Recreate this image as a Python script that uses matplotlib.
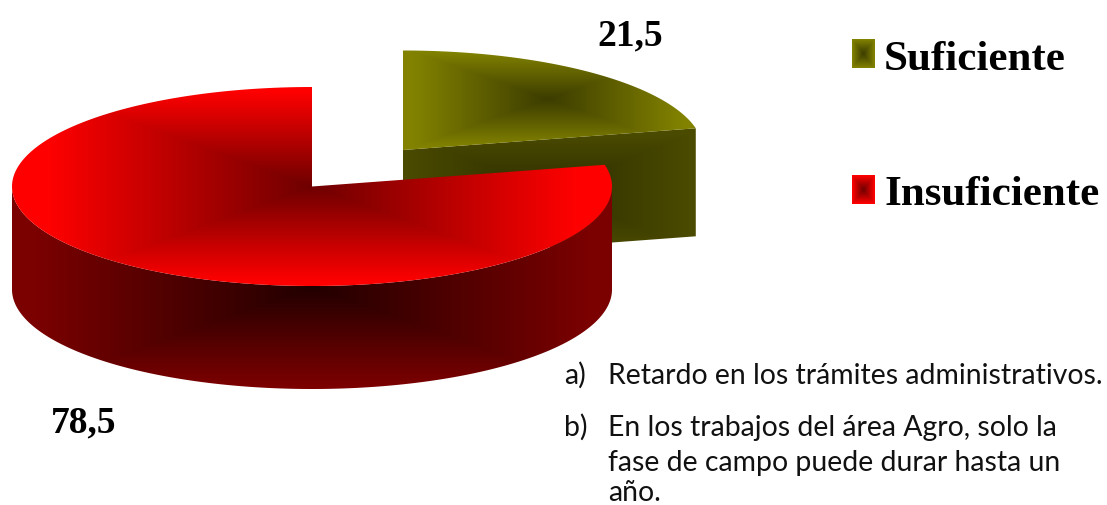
import numpy as np
import matplotlib
matplotlib.use('Agg')
import matplotlib.pyplot as plt
from matplotlib.colors import to_rgb
from matplotlib.patches import Polygon

# chart data
labels = ['Suficiente', 'Insuficiente']
values = [21.5, 78.5]
value_labels = ['21,5', '78,5']
notes_a = 'Retardo en los trámites administrativos.'
notes_b = ['En los trabajos del área Agro, solo la', 'fase de campo puede durar hasta un', 'año.']

RX, RY, DEPTH = 300, 99.5, 103
RED_C = (312, 187.5)
GREEN_C = (403, 151)
SERIF = 'Liberation Serif'
BODY = 'Lato'

fig = plt.figure(figsize=(11.07, 5.06), dpi=100)
ax = fig.add_axes([0, 0, 1, 1])


def arc(c, a0, a1, dy=0, n=200):
    # angles clockwise from 12 o'clock, as on the pie
    t = np.radians(np.linspace(a0, a1, n))
    return np.column_stack([c[0] + RX * np.sin(t), c[1] - RY * np.cos(t) + dy])


def shade(points, center, half, inner, outer, z):
    # rectangular "path" gradient clipped to a polygon
    x0, y0 = points.min(axis=0)
    x1, y1 = points.max(axis=0)
    xs = np.arange(np.floor(x0), np.ceil(x1) + 1)
    ys = np.arange(np.floor(y0), np.ceil(y1) + 1)
    xx, yy = np.meshgrid(xs, ys)
    t = np.clip(np.maximum(np.abs(xx - center[0]) / half[0], np.abs(yy - center[1]) / half[1]), 0, 1)
    a, b = np.array(to_rgb(inner)), np.array(to_rgb(outer))
    img = a + (b - a) * t[..., None]
    im = ax.imshow(img, extent=(xs[0], xs[-1], ys[-1], ys[0]), aspect='auto', zorder=z, interpolation='bilinear')
    patch = Polygon(points, closed=True, transform=ax.transData, facecolor='none', edgecolor='none')
    ax.add_patch(patch)
    im.set_clip_path(patch)


green_end = 360 * values[0] / sum(values)

# exploded green slice: cut face first, then top
end = arc(GREEN_C, green_end, green_end, n=1)[0]
face = np.array([GREEN_C, end, end + [0, DEPTH + 5], [GREEN_C[0], GREEN_C[1] + DEPTH + 5]])
shade(face, (548, 192), (150, 60), '#2e2e00', '#4c4c00', 1)
top = np.vstack([[GREEN_C], arc(GREEN_C, 0, green_end)])
shade(top, (548, 100), (135, 48), '#3c3c00', '#828200', 2)

# red slice: side wall, then top
side = np.vstack([arc(RED_C, 90, 270), arc(RED_C, 270, 90, dy=DEPTH)])
shade(side, (312, 288), (280, 100), '#220000', '#7c0000', 3)
top = np.vstack([[RED_C], arc(RED_C, green_end, 360)])
shade(top, RED_C, (265, 96), '#6e0000', '#ff0000', 4)

# legend keys and labels
for y, lab, inner, outer, base in [(40, labels[0], '#3c3c00', '#828200', 70),
                                   (176, labels[1], '#6e0000', '#ff0000', 205)]:
    sq = np.array([[852, y], [875, y], [875, y + 29], [852, y + 29]], dtype=float)
    shade(sq, (863.5, y + 14.5), (11.5, 14.5), inner, outer, 5)
    ax.text(884, base, lab, family=SERIF, weight='bold', fontsize=31, va='baseline', ha='left', color='black')

# slice values
ax.text(630, 45, value_labels[0], family=SERIF, weight='bold', fontsize=27, ha='center', va='baseline')
ax.text(84, 432, value_labels[1], family=SERIF, weight='bold', fontsize=27, ha='center', va='baseline')

# notes
ax.text(564, 384, 'a)', family=BODY, fontsize=20.4, va='baseline', color='#111111')
ax.text(608, 384, notes_a, family=BODY, fontsize=20.4, va='baseline', color='#111111')
ax.text(564, 436, 'b)', family=BODY, fontsize=20.4, va='baseline', color='#111111')
for y, line in zip([436, 471, 501], notes_b):
    ax.text(608, y, line, family=BODY, fontsize=20.4, va='baseline', color='#111111')

ax.set_xlim(0, 1107)
ax.set_ylim(506, 0)
ax.axis('off')
fig.savefig('out.png', dpi=100, facecolor='white')
